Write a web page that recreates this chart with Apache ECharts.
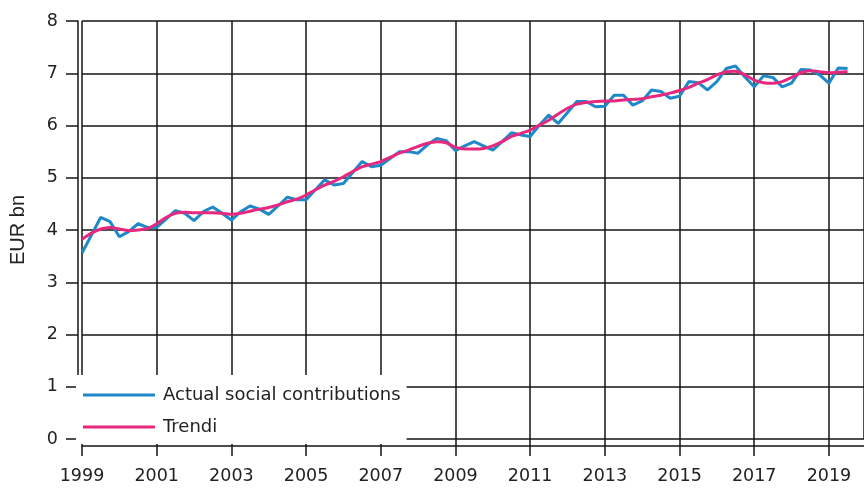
<!DOCTYPE html>
<html><head><meta charset="utf-8">
<script src="https://cdn.jsdelivr.net/npm/echarts@6/dist/echarts.min.js"></script>
<style>html,body{margin:0;padding:0;background:#fff}#c{width:864px;height:490px}</style>
</head><body><div id="c"></div>
<script>
const startYear = 1999;
const seriesNames = ['Actual social contributions', 'Trendi'];
const yAxisName = 'EUR bn';
const actual = [
  3.56, 3.90, 4.24, 4.16,
  3.87, 3.97, 4.12, 4.05,
  4.05, 4.21, 4.37, 4.32,
  4.18, 4.35, 4.44, 4.32,
  4.19, 4.35, 4.46, 4.40,
  4.30, 4.46, 4.63, 4.58,
  4.58, 4.77, 4.96, 4.86,
  4.89, 5.10, 5.31, 5.21,
  5.24, 5.37, 5.50, 5.50,
  5.47, 5.63, 5.75, 5.71,
  5.52, 5.61, 5.69, 5.61,
  5.53, 5.69, 5.86, 5.82,
  5.79, 6.01, 6.20, 6.04,
  6.25, 6.46, 6.46, 6.36,
  6.37, 6.58, 6.58, 6.39,
  6.47, 6.68, 6.65, 6.52,
  6.56, 6.84, 6.82, 6.68,
  6.84, 7.09, 7.14, 6.93,
  6.74, 6.95, 6.92, 6.74,
  6.81, 7.07, 7.06, 6.97,
  6.81, 7.10, 7.09
];
const trend = [
  3.82, 3.94, 4.02, 4.05,
  4.02, 3.99, 4.00, 4.03,
  4.12, 4.24, 4.32, 4.34,
  4.33, 4.33, 4.33, 4.32,
  4.30, 4.32, 4.36, 4.40,
  4.43, 4.48, 4.54, 4.59,
  4.67, 4.77, 4.86, 4.93,
  5.02, 5.12, 5.21, 5.26,
  5.31, 5.39, 5.47, 5.53,
  5.60, 5.66, 5.69, 5.67,
  5.58, 5.55, 5.55, 5.56,
  5.61, 5.69, 5.79, 5.85,
  5.91, 6.01, 6.10, 6.22,
  6.33, 6.41, 6.44, 6.46,
  6.47, 6.47, 6.49, 6.50,
  6.51, 6.55, 6.58, 6.62,
  6.67, 6.73, 6.81, 6.88,
  6.97, 7.03, 7.04, 6.97,
  6.87, 6.82, 6.81, 6.84,
  6.92, 7.01, 7.05, 7.03,
  7.01, 7.02, 7.03
];
const yTicks = [0, 1, 2, 3, 4, 5, 6, 7, 8];
const xTickYears = [1999, 2001, 2003, 2005, 2007, 2009, 2011, 2013, 2015, 2017, 2019];

const xOf = i => startYear + i / 4;
const actualData = actual.map((v, i) => [xOf(i), v]);
const trendData = trend.map((v, i) => [xOf(i), v]);

const font = 'DejaVu Sans';
const gridColor = '#151515';
const blue = '#1f88c8', pink = '#e6287f';
const xMin = xTickYears[0], xMax = 2019.94;

const chart = echarts.init(document.getElementById('c'), null, {renderer: 'canvas'});
chart.setOption({
  animation: false,
  backgroundColor: '#fff',
  grid: {left: 79, right: 0, top: 21, bottom: 51, containLabel: false},
  legend: {
    orient: 'vertical', left: 76, top: 375,
    backgroundColor: '#fff',
    padding: [10, 6, 7, 7],
    itemWidth: 72, itemHeight: 3, itemGap: 12,
    icon: 'rect',
    textStyle: {fontFamily: font, fontSize: 18, lineHeight: 20, color: '#222', padding: [0, 0, 0, 3]},
    data: [
      {name: seriesNames[0], icon: 'rect', itemStyle: {color: blue}},
      {name: seriesNames[1], icon: 'rect', itemStyle: {color: pink}}
    ]
  },
  xAxis: [{
    type: 'value', min: xMin, max: xMax, interval: 2,
    axisLine: {show: false},
    axisTick: {show: true, length: 17, lineStyle: {color: gridColor, width: 1.5}},
    axisLabel: {
      margin: 28, fontFamily: font, fontSize: 17.5, color: '#222',
      showMaxLabel: false,
      formatter: v => xTickYears.includes(Math.round(v * 1000) / 1000) ? String(v) : ''
    },
    splitLine: {show: true, lineStyle: {color: gridColor, width: 1.5}}
  }, {
    type: 'value', min: xMin, max: xMax, position: 'bottom', offset: 7,
    axisLine: {show: true, lineStyle: {color: gridColor, width: 1.5}},
    axisTick: {show: false}, axisLabel: {show: false}, splitLine: {show: false}
  }],
  yAxis: {
    type: 'value', min: yTicks[0], max: yTicks[yTicks.length - 1], interval: 1,
    offset: 4,
    name: yAxisName, nameLocation: 'middle', nameGap: 50, nameRotate: 90,
    nameTextStyle: {fontFamily: 'Liberation Sans', fontSize: 20, color: '#222'},
    axisLine: {show: true, lineStyle: {color: gridColor, width: 1.5}},
    axisTick: {show: true, length: 12, lineStyle: {color: gridColor, width: 1.5}},
    axisLabel: {margin: 20, fontFamily: font, fontSize: 17.5, color: '#222'},
    splitLine: {show: true, lineStyle: {color: gridColor, width: 1.5}}
  },
  series: [{
    name: seriesNames[0], type: 'line', data: actualData,
    symbol: 'none', color: blue,
    lineStyle: {width: 3, color: blue}, z: 2
  }, {
    name: seriesNames[1], type: 'line', data: trendData,
    symbol: 'none', smooth: 0.3, color: pink,
    lineStyle: {width: 3, color: pink}, z: 3
  }]
});
</script></body></html>
